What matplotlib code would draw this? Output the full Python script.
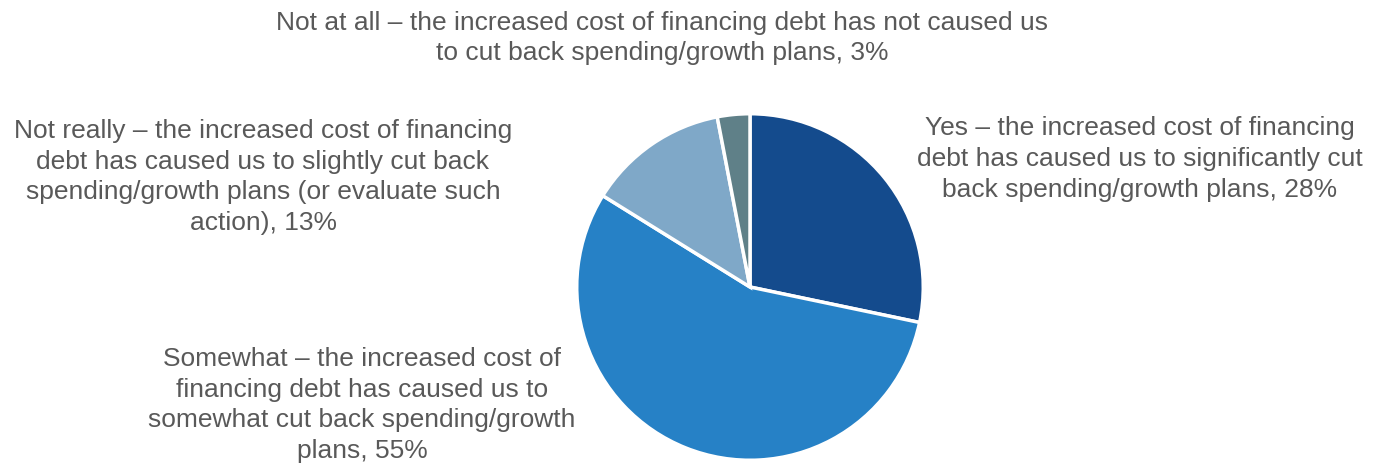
import matplotlib.pyplot as plt

plt.rcParams['font.family'] = ['Liberation Sans', 'DejaVu Sans']

kategoriler = [
    "Yes – the increased cost of financing\ndebt has caused us to significantly cut\nback spending/growth plans",
    "Somewhat – the increased cost of\nfinancing debt has caused us to\nsomewhat cut back spending/growth\nplans",
    "Not really – the increased cost of financing\ndebt has caused us to slightly cut back\nspending/growth plans (or evaluate such\naction)",
    "Not at all – the increased cost of financing debt has not caused us\nto cut back spending/growth plans",
]
yuzdeler = [28, 55, 13, 3]
renkler = ["#144b8d", "#2681c6", "#7fa8c8", "#5f8088"]

W, H = 1386, 464
fig = plt.figure(figsize=(W / 100, H / 100), dpi=100)

# pasta merkezi (750, 288) px, yaricap 175 px
cx, cy, r = 750, 288, 175
ax = fig.add_axes([(cx - r) / W, (H - cy - r) / H, 2 * r / W, 2 * r / H])
ax.pie(yuzdeler, colors=renkler, startangle=90, counterclock=False,
       wedgeprops=dict(edgecolor="white", linewidth=2.5), radius=1)
ax.set_xlim(-1.01, 1.01)
ax.set_ylim(-1.01, 1.01)
ax.set_aspect("equal")
ax.axis("off")

# etiket konumlari (piksel)
konumlar = [(1140, 159), (362, 405), (263, 177), (662, 38)]
for metin, deger, (x, y) in zip(kategoriler, yuzdeler, konumlar):
    fig.text(x / W, 1 - y / H, f"{metin}, {deger}%", ha="center", va="center",
             fontsize=19, color="#595959", linespacing=1.35)

fig.savefig("out.png", dpi=100)
